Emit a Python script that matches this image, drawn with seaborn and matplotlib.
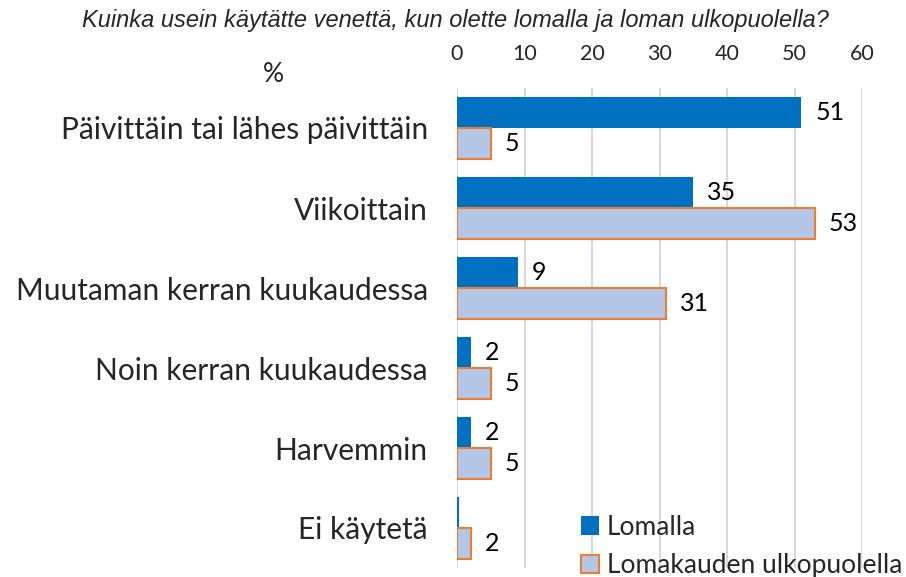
import matplotlib
matplotlib.use("Agg")
import matplotlib.pyplot as plt
import seaborn as sns
import pandas as pd
from matplotlib.patches import Patch

categories = ["Päivittäin tai lähes päivittäin", "Viikoittain", "Muutaman kerran kuukaudessa",
              "Noin kerran kuukaudessa", "Harvemmin", "Ei käytetä"]
series_names = ["Lomalla", "Lomakauden ulkopuolella"]
lomalla = [51, 35, 9, 2, 2, 0.3]
ulkopuolella = [5, 53, 31, 5, 5, 2]
x_ticks = [0, 10, 20, 30, 40, 50, 60]
title = "Kuinka usein käytätte venettä, kun olette lomalla ja loman ulkopuolella?"

sns.set_theme(style="white")
plt.rcParams['font.family'] = ['Lato', 'DejaVu Sans']

df = pd.DataFrame({
    "cat": categories * 2,
    "val": lomalla + ulkopuolella,
    "series": [series_names[0]] * len(categories) + [series_names[1]] * len(categories),
})

blue = "#0070C0"
light = "#B4C7E7"
orange = "#ED7D31"

fig = plt.figure(figsize=(9.06, 5.77), dpi=100)
ax = fig.add_axes([457/906, 1-568/577, (862-457)/906, (568-88)/577])
sns.barplot(data=df, y="cat", x="val", hue="series", orient="h", ax=ax,
            palette=[blue, light], width=0.78, legend=False, saturation=1)

for i, cont in enumerate(ax.containers):
    for p in cont.patches:
        if i == 0:
            p.set_edgecolor(blue)
            p.set_linewidth(0)
        else:
            p.set_edgecolor(orange)
            p.set_linewidth(1.5)
    vals = lomalla if i == 0 else ulkopuolella
    labels = [f"{v:.0f}" if v >= 0.5 else "" for v in vals]
    ax.bar_label(cont, labels=labels, padding=10, fontsize=18, color="black")

ax.set_xlim(0, 60)
ax.set_ylim(5.5, -0.5)
ax.set_xticks(x_ticks)
ax.xaxis.tick_top()
ax.tick_params(axis="x", length=0, pad=17, labelsize=15.5)
ax.tick_params(axis="y", length=0, pad=21, labelsize=21.5)
ax.set_xlabel("")
ax.set_ylabel("")
ax.grid(axis="x", color="#D9D9D9", linewidth=1.5)
ax.set_axisbelow(True)
for s in ax.spines.values():
    s.set_visible(False)

fig.text(455/906, 1-20/577, title, ha="center", va="center", fontsize=17,
         style="italic", family=["Liberation Sans", "DejaVu Sans"])
fig.text(273/906, 1-74/577, "%", ha="center", va="center", fontsize=19)

handles = [Patch(facecolor=blue, edgecolor=blue, linewidth=0),
           Patch(facecolor=light, edgecolor=orange, linewidth=1.5)]
leg = fig.legend(handles, series_names, loc="lower left", bbox_to_anchor=(570/906, -0.02),
                 frameon=False, fontsize=19, handlelength=0.7, handleheight=0.7,
                 handletextpad=0.3, labelspacing=0.5, borderaxespad=0)

fig.savefig("out.png", dpi=100)
